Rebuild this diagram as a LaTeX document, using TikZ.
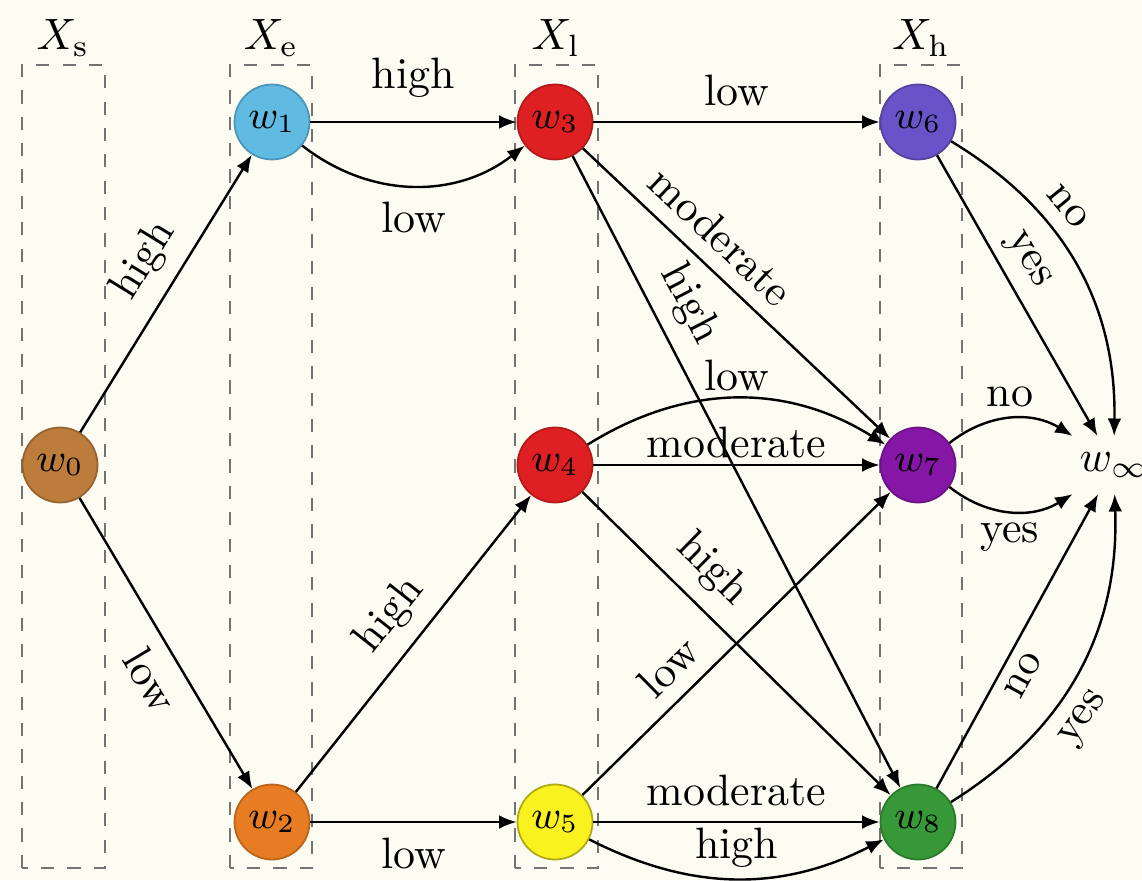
\documentclass[tikz,border=0pt]{standalone}
\usepackage{amsmath,amssymb}
\usepackage{tikz}
\usetikzlibrary{arrows.meta}
\definecolor{bgcol}{RGB}{252,252,242}
\definecolor{wbrown}{RGB}{188,124,60}
\definecolor{wsky}{RGB}{96,186,226}
\definecolor{worange}{RGB}{232,124,34}
\definecolor{wred}{RGB}{222,32,34}
\definecolor{wyellow}{RGB}{250,242,30}
\definecolor{wviolet}{RGB}{104,84,200}
\definecolor{wpurple}{RGB}{134,22,166}
\definecolor{wgreen}{RGB}{54,152,54}

\begin{document}
\begin{tikzpicture}[x=0.8cm,y=0.8cm,
  state/.style={circle,minimum size=0.6cm,inner sep=0pt,font=\small},
  layer/.style={draw=black!55,dashed,line width=0.45pt},
  edge/.style={-{Latex[length=1.4mm,width=1.1mm]},line width=0.55pt}]
  \useasboundingbox[fill=bgcol] (0,0) rectangle (11.42,8.8);
  % layers
  \draw[layer] (0.22,0.12) rectangle (1.05,8.15);
  \draw[layer] (2.30,0.12) rectangle (3.12,8.15);
  \draw[layer] (5.15,0.12) rectangle (5.98,8.15);
  \draw[layer] (8.80,0.12) rectangle (9.62,8.15);
  \node (Xs) at (0.63,8.42) {$X_{\mathrm{s}}$};
  \node (Xe) at (2.71,8.42) {$X_{\mathrm{e}}$};
  \node (Xl) at (5.56,8.42) {$X_{\mathrm{l}}$};
  \node (Xh) at (9.21,8.42) {$X_{\mathrm{h}}$};
  % states
  \node[state,fill=wbrown,draw=wbrown!80!black] (w0) at (0.60,4.15) {$w_0$};
  \node[state,fill=wsky,draw=wsky!80!black] (w1) at (2.72,7.58) {$w_1$};
  \node[state,fill=worange,draw=worange!80!black] (w2) at (2.72,0.58) {$w_2$};
  \node[state,fill=wred,draw=wred!80!black] (w3) at (5.55,7.58) {$w_3$};
  \node[state,fill=wred,draw=wred!80!black] (w4) at (5.55,4.15) {$w_4$};
  \node[state,fill=wyellow,draw=wyellow!70!black] (w5) at (5.55,0.58) {$w_5$};
  \node[state,fill=wviolet,draw=wviolet!80!black] (w6) at (9.18,7.58) {$w_6$};
  \node[state,fill=wpurple,draw=wpurple!80!black] (w7) at (9.18,4.15) {$w_7$};
  \node[state,fill=wgreen,draw=wgreen!80!black] (w8) at (9.18,0.58) {$w_8$};
  \node[inner sep=3.5pt] (winf) at (11.14,4.15) {$w_\infty$};
  % transitions
  \draw[edge] (w0) -- node[sloped,above,pos=0.55] {high} (w1);
  \draw[edge] (w0) -- node[sloped,below,pos=0.57] {low} (w2);
  \draw[edge] (w1) -- node[above=2pt] {high} (w3);
  \draw[edge] (w1) to[bend right=38] node[below] {low} (w3);
  \draw[edge] (w2) -- node[sloped,above,pos=0.52] {high} (w4);
  \draw[edge] (w2) -- node[below] {low} (w5);
  \draw[edge] (w3) -- node[above] {low} (w6);
  \draw[edge] (w3) -- node[sloped,above,pos=0.38] {moderate} (w7);
  \draw[edge] (w3) -- node[sloped,above,pos=0.26] {high} (w8);
  \draw[edge] (w4) to[bend left=32] node[above=-2pt] {low} (w7);
  \draw[edge] (w4) -- node[above=-2pt] {moderate} (w7);
  \draw[edge] (w4) -- node[sloped,above,pos=0.34] {high} (w8);
  \draw[edge] (w5) -- node[sloped,above,pos=0.35] {low} (w7);
  \draw[edge] (w5) -- node[above] {moderate} (w8);
  \draw[edge] (w5) to[bend right=27] node[above=-1pt] {high} (w8);
  \draw[edge] (w6) to[bend left=30] node[sloped,above,pos=0.35] {no} (winf);
  \draw[edge] (w6) -- node[sloped,above=-1pt,pos=0.42] {yes} (winf);
  \draw[edge] (w7) to[bend left=35] node[above=-1pt] {no} (winf);
  \draw[edge] (w7) to[bend right=35] node[below=-1pt] {yes} (winf);
  \draw[edge] (w8) -- node[sloped,below=-1pt,pos=0.42] {no} (winf);
  \draw[edge] (w8) to[bend right=30] node[sloped,below,pos=0.4] {yes} (winf);
\end{tikzpicture}
\end{document}
